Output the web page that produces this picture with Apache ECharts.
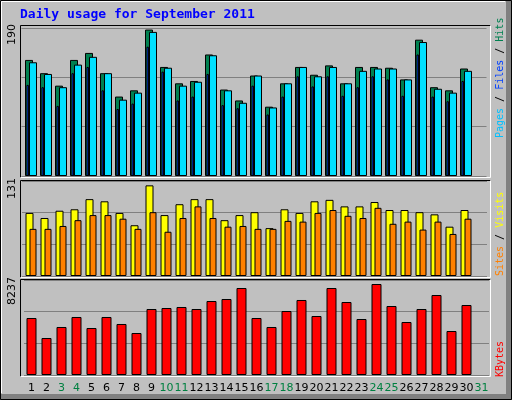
<!DOCTYPE html>
<html><head><meta charset="utf-8">
<script src="https://cdn.jsdelivr.net/npm/echarts@6/dist/echarts.min.js"></script>
<style>html,body{margin:0;padding:0;background:#c0c0c0}#c{width:512px;height:400px}</style>
</head><body><div id="c"></div>
<script>
const days = ['1','2','3','4','5','6','7','8','9','10','11','12','13','14','15','16','17','18','19','20','21','22','23','24','25','26','27','28','29','30','31'];
const weekend = ['3','4','10','11','17','18','24','25','31'];
const hits  = [149,132,116,149,158,132,102,110,188,140,119,122,156,111,97,129,89,119,140,130,142,119,140,140,139,124,175,114,110,138,null];
const pages = [146,131,114,143,153,132,98,107,185,139,116,121,155,110,94,129,88,119,140,128,140,119,135,138,138,124,172,112,107,135,null];
const files = [117,114,90,132,140,110,86,93,166,134,97,102,131,91,87,116,79,102,128,115,128,103,114,128,124,103,156,102,96,122,null];
const visits = [87,80,90,92,106,103,87,70,125,84,99,106,106,77,84,88,66,92,87,103,105,96,96,102,91,91,88,85,68,91,null];
const sites  = [65,65,69,77,84,84,79,65,88,61,80,96,80,68,69,65,65,76,75,87,91,83,80,94,72,75,64,75,58,79,null];
const kbytes = [4942,3208,4162,5029,4075,5029,4422,3641,5722,5809,5896,5722,6416,6589,7543,4942,4162,5549,6503,5115,7543,6329,4855,7890,5982,4595,5722,6936,3815,6069,null];
const maxLabels = ['190','131','8237'];
const maxVals = [190,131,8237];

const panels = [{top:28,h:148},{top:181,h:95},{top:280,h:95}];
const W = 465, L = 25.5;
const grids=[], xAxes=[], yAxes=[], series=[];
function add(panel, off, data, color, bw, showGrid, showLabels){
  const i = grids.length, p = panels[panel];
  grids.push({left:L+off, top:p.top, width:W, height:p.h});
  xAxes.push({type:'category', gridIndex:i, data:days, boundaryGap:true,
    axisLine:{show:false}, axisTick:{show:false}, splitLine:{show:false},
    axisLabel:{show:showLabels, interval:0, margin:8, fontFamily:'DejaVu Sans', fontSize:11,
      color:(v)=>weekend.includes(v)?'#008040':'#000'}});
  yAxes.push({type:'value', gridIndex:i, min:0, max:maxVals[panel], interval:maxVals[panel]/3,
    axisLabel:{show:false}, axisLine:{show:false}, axisTick:{show:false},
    splitLine:{show:showGrid, lineStyle:{color:'#808080', width:1}}});
  series.push({type:'bar', xAxisIndex:i, yAxisIndex:i, data:data, barWidth:bw, silent:true,
    itemStyle:{color:color, borderColor:'#000', borderWidth:1}, animation:false});
}
add(0,-4,hits,'#008050',8,true,false);
add(0,0,pages,'#00e0ff',8,false,false);
add(0,-5.3,files,'#0040ff',2.5,false,false);
add(1,-3.5,visits,'#ffff00',8,true,false);
add(1,0,sites,'#ff8000',7,false,false);
add(2,-1.5,kbytes,'#ff0000',10,true,true);

function frame(x1,y1,x2,y2,dark,light,z){
  return [
    {type:'line',z:z,shape:{x1:x1,y1:y1,x2:x2,y2:y1},style:{stroke:dark,lineWidth:1}},
    {type:'line',z:z,shape:{x1:x1,y1:y1,x2:x1,y2:y2},style:{stroke:dark,lineWidth:1}},
    {type:'line',z:z,shape:{x1:x2,y1:y1,x2:x2,y2:y2},style:{stroke:light,lineWidth:1}},
    {type:'line',z:z,shape:{x1:x1,y1:y2,x2:x2,y2:y2},style:{stroke:light,lineWidth:1}}];
}
const g = [
  {type:'rect',z:-10,shape:{x:0,y:0,width:512,height:400},style:{fill:'#c0c0c0'}},
  {type:'rect',z:-9,shape:{x:506,y:0,width:6,height:400},style:{fill:'#808080'}},
  {type:'rect',z:-9,shape:{x:0,y:394,width:512,height:6},style:{fill:'#808080'}},
  {type:'rect',z:-8,shape:{x:0.5,y:0.5,width:511,height:399},style:{fill:null,stroke:'#000',lineWidth:1}},
  {type:'line',z:-8,shape:{x1:1.5,y1:1.5,x2:505,y2:1.5},style:{stroke:'#fff'}},
  {type:'line',z:-8,shape:{x1:1.5,y1:1.5,x2:1.5,y2:393},style:{stroke:'#fff'}},
  ...frame(20.5,25.5,490.5,177.5,'#000','#fff',10),
  ...frame(20.5,180.5,490.5,277.5,'#000','#fff',10),
  ...frame(20.5,279.5,490.5,376.5,'#000','#fff',10),
  {type:'text',left:20,top:8,style:{text:'Daily usage for September 2011',fill:'#0000ff',font:'bold 13px "DejaVu Sans Mono"'}},
  {type:'text',x:18,y:45,rotation:Math.PI/2,style:{text:maxLabels[0],fill:'#000',font:'11px "DejaVu Sans"',textAlign:'left',textVerticalAlign:'bottom'}},
  {type:'text',x:18,y:199,rotation:Math.PI/2,style:{text:maxLabels[1],fill:'#000',font:'11px "DejaVu Sans"',textAlign:'left',textVerticalAlign:'bottom'}},
  {type:'text',x:18,y:305,rotation:Math.PI/2,style:{text:maxLabels[2],fill:'#000',font:'11px "DejaVu Sans"',textAlign:'left',textVerticalAlign:'bottom'}},
  {type:'text',x:495,y:138,rotation:Math.PI/2,style:{text:'{p|Pages}{s| / }{f|Files}{s| / }{h|Hits}',textAlign:'left',textVerticalAlign:'top',font:'10px "DejaVu Sans Mono"',
    rich:{p:{fill:'#00c0ff',font:'10px "DejaVu Sans Mono"'},s:{fill:'#000',font:'10px "DejaVu Sans Mono"'},f:{fill:'#0040ff',font:'10px "DejaVu Sans Mono"'},h:{fill:'#008050',font:'10px "DejaVu Sans Mono"'}}}},
  {type:'text',x:495,y:276,rotation:Math.PI/2,style:{text:'{a|Sites}{s| / }{b|Visits}',textAlign:'left',textVerticalAlign:'top',font:'10px "DejaVu Sans Mono"',
    rich:{a:{fill:'#ff8000',font:'10px "DejaVu Sans Mono"'},s:{fill:'#000',font:'10px "DejaVu Sans Mono"'},b:{fill:'#ffff00',font:'10px "DejaVu Sans Mono"'}}}},
  {type:'text',x:495,y:377,rotation:Math.PI/2,style:{text:'KBytes',fill:'#ff0000',textAlign:'left',textVerticalAlign:'top',font:'10px "DejaVu Sans Mono"'}}
];
const chart = echarts.init(document.getElementById('c'),null,{renderer:'canvas'});
chart.setOption({animation:false, backgroundColor:'#c0c0c0', grid:grids, xAxis:xAxes, yAxis:yAxes, series:series, graphic:g});
</script></body></html>
